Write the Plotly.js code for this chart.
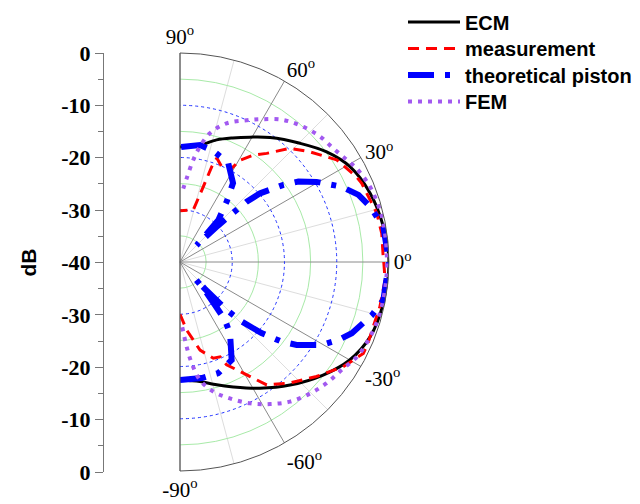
<!DOCTYPE html>
<html>
<head>
<meta charset="utf-8">
<script src="https://cdn.plot.ly/plotly-3.0.1.min.js"></script>
<style>html,body{margin:0;padding:0;background:#fff;}#chart{width:640px;height:504px;}</style>
</head>
<body>
<div id="chart"></div>
<script>
// ---- data (angle in degrees, level in dB) ----
const ecmTheta = [-90, -85, -80.5, -74, -66.9, -57.7, -48.2, -38.3, -30, -21.5, -11.5, 0, 9.9, 19.9, 29.3, 36.9, 44.7, 54.1, 60.7, 67, 73.3, 80.3, 85, 90];
const ecmR     = [-17.4, -17.2, -16.8, -15.6, -14.0, -11.4, -8.4, -5.1, -2.5, -0.9, -0.3, 0, -0.5, -1.3, -2.7, -4.9, -7.7, -10.6, -12.6, -14.2, -15.6, -17.3, -17.7, -18.0];

const measTheta = [-90, -84.4, -77.2, -70.9, -67.1, -65.6, -59.4, -54.8, -47.7, -40, -32.7, -26.5, -23.4, -18.5, -12.6, -5, 0, 1.5, 8.1, 13.9, 23.4, 25.8, 33.1, 40.3, 45.9, 51.4, 55.6, 59.5, 61.5, 66.4, 70.5, 71.6, 72.8, 75.7, 90];
const measR     = [-30.0, -26.9, -22.7, -20.5, -20.3, -18.4, -14.9, -11.2, -8.7, -5.9, -2.9, -0.8, -0.8, -1.0, -0.8, -0.6, -1.0, -1.1, -1.0, -1.2, -2.1, -2.5, -4.2, -7.4, -9.7, -13.4, -15.2, -17.4, -20.0, -20.1, -18.9, -20.8, -24.9, -29.7, -30.2];

const pistTheta = [-90, -79.4, -71, -62.2, -55, -52.2, -50.9, -48.5, -47.8, -47.1, -45.8, -44, -41.1, -38.1, -35.4, -30.4, -26.2, -22.5, -15.5, -10.6, 0, 9.9, 16.2, 20.6, 25, 30.4, 34.2, 36.7, 40.6, 42.1, 42.8, 43.8, 44.5, 45.2, 46, 47.6, 52.3, 56.1, 64.1, 73.4, 80.3, 90];
const pistR     = [-17.4, -17.4, -17.5, -18.8, -23.3, -26.0, -29.4, -33.0, -35.5, -33.0, -27.2, -23.6, -19.3, -15.3, -12.6, -8.6, -6.2, -4.4, -1.9, -0.4, 0, -0.5, -2.1, -3.5, -5.9, -9.7, -12.6, -15.3, -19.8, -22.8, -26.2, -30.0, -33.5, -35.5, -33.5, -29.1, -25.4, -21.8, -18.9, -17.8, -17.3, -18.0];

const femTheta = [-88, -87.3, -85.5, -83.4, -80.4, -75.6, -69.9, -63.6, -57.6, -51.8, -45.3, -39.6, -33.7, -28.2, -21.5, -14.4, -6, 0, 6, 12.7, 20.6, 25, 28.6, 32.1, 36.6, 41.8, 47.7, 54, 60.2, 64.8, 71.4, 76.9, 80.2, 82.6, 85.5, 88.6];
const femR     = [-27.5, -26.6, -23.7, -20.5, -17.1, -14.4, -12.2, -9.8, -7.8, -6.0, -4.6, -3.6, -2.8, -1.6, -0.9, -0.5, -0.4, -0.4, -0.4, -0.4, -0.8, -1.3, -1.9, -2.7, -3.5, -4.0, -5.0, -6.4, -8.5, -10.0, -12.0, -14.7, -17.6, -20.3, -24.0, -26.9];

const seriesNames = ['ECM', 'measurement', 'theoretical piston', 'FEM'];
const angleTicks = [-90, -60, -30, 0, 30, 60, 90];
const angleLabels = ['-90<sup>o</sup>', '-60<sup>o</sup>', '-30<sup>o</sup>', '0<sup>o</sup>', '30<sup>o</sup>', '60<sup>o</sup>', '90<sup>o</sup>'];
const minorAngleTicks = [-75, -45, -15, 15, 45, 75];
const greenRings = [-35, -25, -15, -5];
const blueRings = [-30, -20, -10];
const dbTickVals = [-40, -30, -20, -10, 0, 10, 20, 30, 40];
const dbTickText = ['0', '-10', '-20', '-30', '-40', '-30', '-20', '-10', '0'];

const serif = 'Liberation Serif';
const sans = 'Liberation Sans';

const traces = [
  {type: 'scatter', x: [], y: [], xaxis: 'x', yaxis: 'y', showlegend: false, hoverinfo: 'skip'},
  {type: 'scatterpolar', subplot: 'polar', r: [], theta: [], mode: 'lines', showlegend: false, hoverinfo: 'skip'},
  {type: 'scatterpolar', subplot: 'polar2', name: seriesNames[0], theta: ecmTheta, r: ecmR, mode: 'lines',
   line: {color: '#000000', width: 3, shape: 'spline'}},
  {type: 'scatterpolar', subplot: 'polar2', name: seriesNames[1], theta: measTheta, r: measR, mode: 'lines',
   line: {color: '#ff0000', width: 3, dash: '11px,7px'}},
  {type: 'scatterpolar', subplot: 'polar2', name: seriesNames[2], theta: pistTheta, r: pistR, mode: 'lines',
   line: {color: '#0000ff', width: 6, dash: '26px,11px,5px,11px'}},
  {type: 'scatterpolar', subplot: 'polar2', name: seriesNames[3], theta: femTheta, r: femR, mode: 'lines',
   line: {color: '#a259f0', width: 4, dash: '4px,6px', shape: 'spline'}}
];

const polarDomain = {x: [180/640, 389/640], y: [1 - 471/504, 1 - 53/504]};

const layout = {
  width: 640, height: 504,
  margin: {l: 0, r: 0, t: 0, b: 0},
  font: {family: serif},
  paper_bgcolor: '#ffffff',
  plot_bgcolor: 'rgba(0,0,0,0)',
  showlegend: true,
  legend: {x: 403/640, y: 1 - 4/504, xanchor: 'left', yanchor: 'top', bgcolor: 'rgba(0,0,0,0)',
           font: {family: sans, size: 20, color: '#000', weight: 'bold'}, tracegroupgap: 0},
  xaxis: {domain: [104/640, 110/640], visible: false, range: [0, 1], fixedrange: true},
  yaxis: {domain: [1 - 472/504, 1 - 53/504], anchor: 'x', range: [-40, 40], side: 'left',
          tickmode: 'array', tickvals: dbTickVals, ticktext: dbTickText,
          showline: true, linecolor: '#777', linewidth: 1, showgrid: false, zeroline: false,
          ticks: 'outside', ticklen: 8, tickcolor: '#777', tickwidth: 1,
          minor: {dtick: 5, ticks: 'outside', ticklen: 5, tickcolor: '#777', showgrid: false},
          tickfont: {family: serif, size: 22, color: '#000', weight: 'bold'},
          title: {text: 'dB', font: {family: sans, size: 21, color: '#000', weight: 'bold'}, standoff: 18}},
  polar: {
    domain: polarDomain, sector: [-90, 90], bgcolor: '#ffffff',
    radialaxis: {range: [-40, 0], tickmode: 'array', tickvals: greenRings, showticklabels: false, ticks: '',
                 showline: false, gridcolor: '#a8eaa8', gridwidth: 1},
    angularaxis: {tickmode: 'array', tickvals: minorAngleTicks, showticklabels: false, ticks: '',
                  showline: false, gridcolor: '#dddddd', gridwidth: 1}
  },
  polar2: {
    domain: polarDomain, sector: [-90, 90], bgcolor: 'rgba(0,0,0,0)',
    radialaxis: {range: [-40, 0], tickmode: 'array', tickvals: blueRings, showticklabels: false, ticks: '',
                 showline: false, gridcolor: '#2233ff', gridwidth: 1, griddash: 'dot'},
    angularaxis: {tickmode: 'array', tickvals: angleTicks, ticktext: angleLabels, ticks: '',
                  showline: true, linecolor: '#555', linewidth: 1, gridcolor: '#8a8a8a', gridwidth: 1,
                  tickfont: {family: serif, size: 21, color: '#000'}}
  }
};

Plotly.newPlot('chart', traces, layout, {displayModeBar: false, staticPlot: true}).then(function (gd) {
  // legend styling: longer line samples and tighter row spacing, as in the reference
  const sb = gd.querySelector('.legend .scrollbox');
  if (sb) sb.removeAttribute('clip-path');
  const rows = gd.querySelectorAll('.legend .traces');
  rows.forEach(function (g, i) {
    g.setAttribute('transform', 'translate(0,' + (18 + 26.5 * i) + ')');
    g.querySelectorAll('.legendlines path').forEach(function (p) { p.setAttribute('d', 'M5,0h52'); });
    const t = g.querySelector('text.legendtext');
    if (t) t.setAttribute('x', 62);
  });
});
</script>
</body>
</html>
